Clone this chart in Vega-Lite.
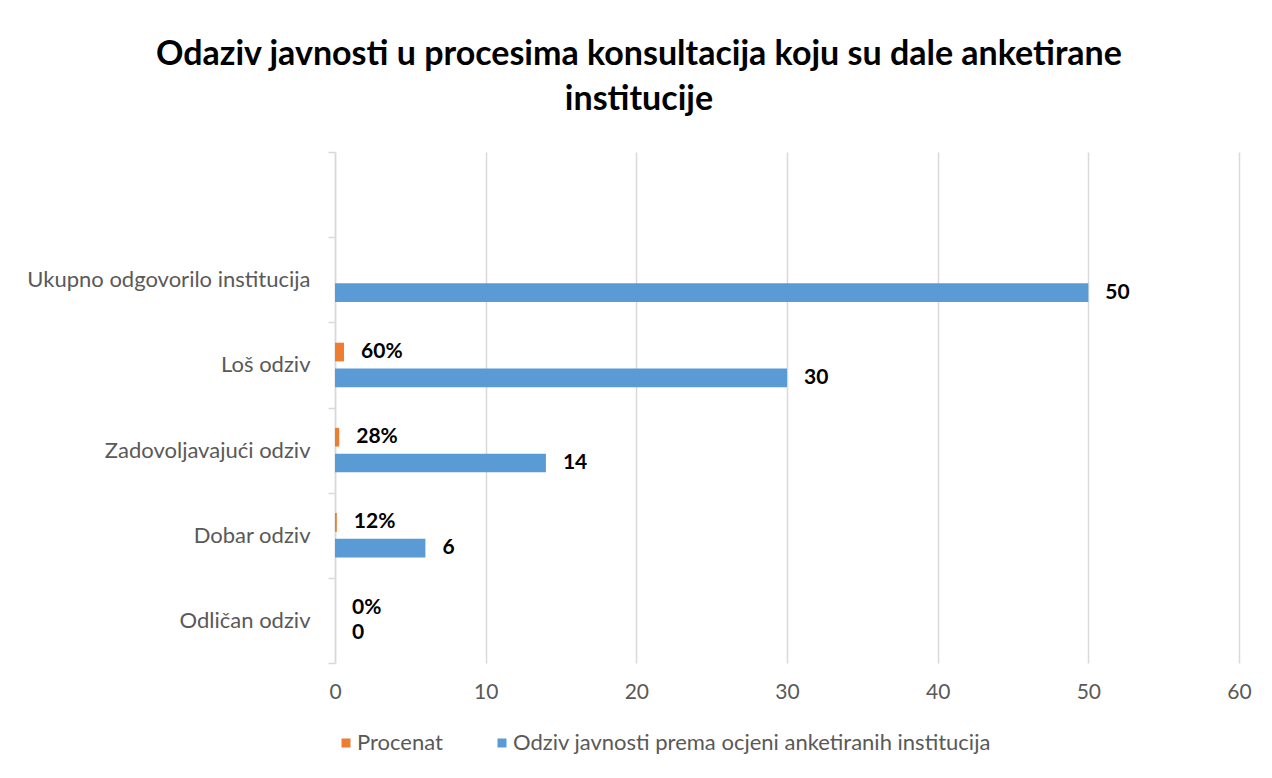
{
  "$schema": "https://vega.github.io/schema/vega-lite/v6.json",
  "width": 1272,
  "height": 778,
  "autosize": {"type": "fit", "contains": "padding"},
  "padding": {"left": 26, "right": 20, "top": 38, "bottom": 24},
  "background": "white",
  "title": {
    "text": ["Odaziv javnosti u procesima konsultacija koju su dale anketirane", "institucije"],
    "font": "Lato",
    "fontSize": 34,
    "fontWeight": "bold",
    "color": "#000000",
    "lineHeight": 45,
    "anchor": "middle",
    "frame": "bounds",
    "offset": 24
  },
  "data": {
    "values": [
      {"kategorija": "Ukupno odgovorilo institucija", "serija": "Odziv javnosti prema ocjeni anketiranih institucija", "vrijednost": 50},
      {"kategorija": "Loš odziv", "serija": "Procenat", "vrijednost": 0.6},
      {"kategorija": "Loš odziv", "serija": "Odziv javnosti prema ocjeni anketiranih institucija", "vrijednost": 30},
      {"kategorija": "Zadovoljavajući odziv", "serija": "Procenat", "vrijednost": 0.28},
      {"kategorija": "Zadovoljavajući odziv", "serija": "Odziv javnosti prema ocjeni anketiranih institucija", "vrijednost": 14},
      {"kategorija": "Dobar odziv", "serija": "Procenat", "vrijednost": 0.12},
      {"kategorija": "Dobar odziv", "serija": "Odziv javnosti prema ocjeni anketiranih institucija", "vrijednost": 6},
      {"kategorija": "Odličan odziv", "serija": "Procenat", "vrijednost": 0},
      {"kategorija": "Odličan odziv", "serija": "Odziv javnosti prema ocjeni anketiranih institucija", "vrijednost": 0}
    ]
  },
  "encoding": {
    "y": {
      "field": "kategorija",
      "type": "nominal",
      "title": null,
      "scale": {
        "domain": [" ", "Ukupno odgovorilo institucija", "Loš odziv", "Zadovoljavajući odziv", "Dobar odziv", "Odličan odziv"],
        "paddingInner": 0,
        "paddingOuter": 0
      },
      "axis": {
        "tickBand": "extent",
        "domainColor": "#d9d9d9",
        "domainWidth": 1.5,
        "tickColor": "#d9d9d9",
        "tickWidth": 1.5,
        "tickSize": 7,
        "labelFont": "Lato",
        "labelFontSize": 22,
        "labelColor": "#595959",
        "labelPadding": 18,
        "labelLimit": 400,
        "grid": false
      }
    },
    "yOffset": {
      "field": "serija",
      "type": "nominal",
      "scale": {
        "domain": ["Procenat", "Odziv javnosti prema ocjeni anketiranih institucija"],
        "paddingInner": 0.275,
        "paddingOuter": 0.79
      }
    },
    "x": {
      "field": "vrijednost",
      "type": "quantitative",
      "title": null,
      "scale": {"domain": [0, 60], "nice": false},
      "axis": {
        "values": [0, 10, 20, 30, 40, 50, 60],
        "format": "d",
        "domain": false,
        "ticks": false,
        "grid": true,
        "gridColor": "#d9d9d9",
        "gridWidth": 1.5,
        "labelFlush": false,
        "labelFont": "Lato",
        "labelFontSize": 21,
        "labelColor": "#595959",
        "labelPadding": 18
      }
    }
  },
  "layer": [
    {
      "mark": {"type": "bar"},
      "encoding": {
        "color": {
          "field": "serija",
          "type": "nominal",
          "scale": {
            "domain": ["Procenat", "Odziv javnosti prema ocjeni anketiranih institucija"],
            "range": ["#ed7d31", "#5b9bd5"]
          },
          "legend": {
            "orient": "bottom",
            "direction": "horizontal",
            "title": null,
            "symbolType": "square",
            "symbolSize": 81,
            "symbolStrokeWidth": 0,
            "labelFont": "Lato",
            "labelFontSize": 22,
            "labelColor": "#595959",
            "labelLimit": 700,
            "labelOffset": 0,
            "columnPadding": 48,
            "offset": 30
          }
        }
      }
    },
    {
      "transform": [{"filter": "datum.serija === 'Procenat'"}],
      "mark": {"type": "text", "align": "left", "baseline": "middle", "dx": 17, "font": "Lato", "fontSize": 21, "fontWeight": "bold", "color": "#000000"},
      "encoding": {"text": {"field": "vrijednost", "type": "quantitative", "format": ".0%"}}
    },
    {
      "transform": [{"filter": "datum.serija !== 'Procenat'"}],
      "mark": {"type": "text", "align": "left", "baseline": "middle", "dx": 17, "font": "Lato", "fontSize": 21, "fontWeight": "bold", "color": "#000000"},
      "encoding": {"text": {"field": "vrijednost", "type": "quantitative", "format": "d"}}
    }
  ],
  "config": {
    "view": {"stroke": null},
    "legend": {"layout": {"bottom": {"anchor": "start"}}}
  }
}
